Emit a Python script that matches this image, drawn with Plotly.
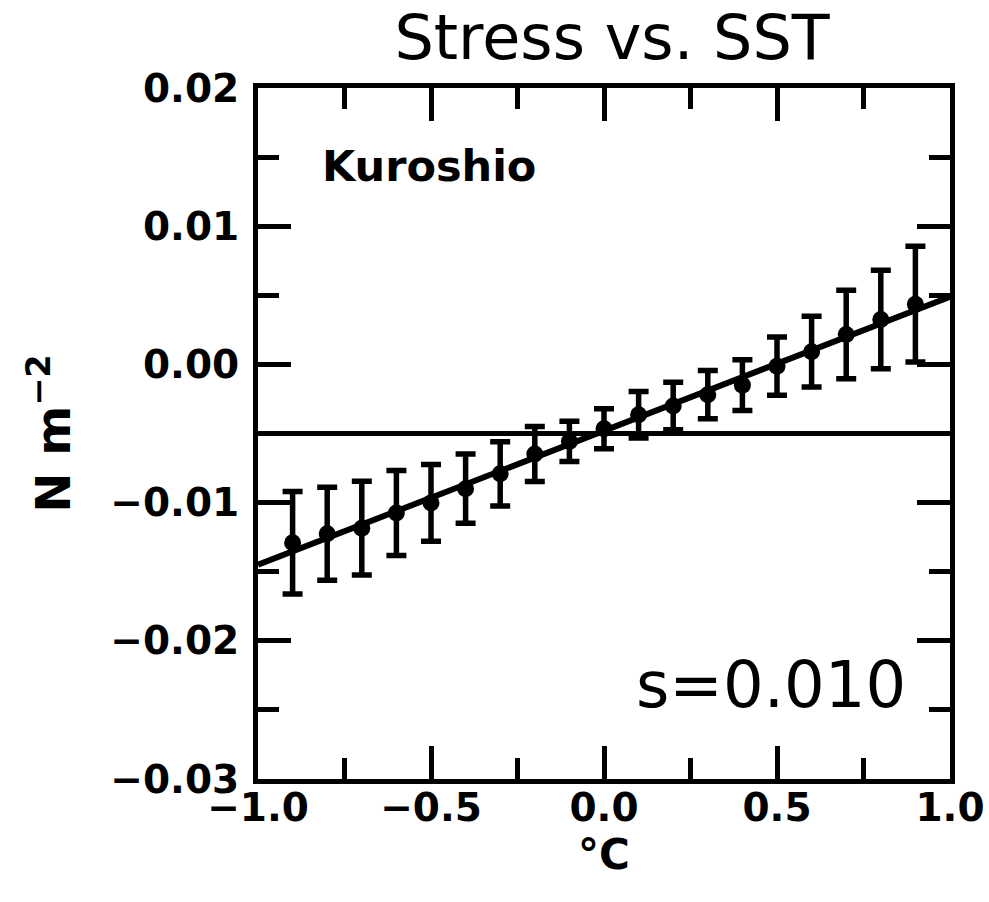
import numpy as np
import plotly.graph_objects as go

# SST anomaly bins (°C)
sst_bins = [-0.9, -0.8, -0.7, -0.6, -0.5, -0.4, -0.3, -0.2, -0.1, 0.0,
            0.1, 0.2, 0.3, 0.4, 0.5, 0.6, 0.7, 0.8, 0.9]

# Bin-mean wind stress (N m^-2)
stress_mean = [-0.01291, -0.01225, -0.01185, -0.01075, -0.01002, -0.00899,
               -0.00792, -0.00649, -0.00557, -0.00466, -0.00364, -0.00301,
               -0.00219, -0.00150, -0.00013, 0.00092, 0.00216, 0.00325, 0.00436]

# Error-bar half-widths (N m^-2)
stress_err = [0.00371, 0.00336, 0.00339, 0.00307, 0.00278, 0.00251,
              0.00232, 0.00199, 0.00146, 0.00145, 0.00168, 0.00172,
              0.00175, 0.00184, 0.00211, 0.00256, 0.00320, 0.00356, 0.00419]

# Linear fit coefficients and reference level
fit_slope = 0.0097
fit_intercept = -0.0048
ref_level = -0.005

x_range = [-1.0, 1.0]
y_range = [-0.03, 0.02]
x_ticks = [-1.0, -0.5, 0.0, 0.5, 1.0]
x_ticktext = ["\u22121.0", "\u22120.5", "0.0", "0.5", "1.0"]
y_ticks = [-0.03, -0.02, -0.01, 0.00, 0.01, 0.02]
y_ticktext = ["\u22120.03", "\u22120.02", "\u22120.01", "0.00", "0.01", "0.02"]

region = "Kuroshio"

fit_x = np.array(x_range)
fit_y = fit_slope * fit_x + fit_intercept

fig = go.Figure()

fig.add_hline(y=ref_level, line=dict(color="black", width=5), layer="below")

fig.add_trace(go.Scatter(
    x=fit_x, y=fit_y, mode="lines",
    line=dict(color="black", width=6),
    showlegend=False, hoverinfo="skip",
))

fig.add_trace(go.Scatter(
    x=sst_bins, y=stress_mean, mode="markers",
    marker=dict(color="black", size=17),
    error_y=dict(type="data", array=stress_err, symmetric=True,
                 color="black", thickness=5.5, width=10),
    showlegend=False,
))

bold = dict(family="DejaVu Sans", color="black", weight="bold")
tick_font = dict(bold, size=39)
axis_common = dict(
    showline=True, linecolor="black", linewidth=5, mirror="ticks",
    ticks="inside", ticklen=33, tickwidth=4.5, tickcolor="black",
    showgrid=False, zeroline=False, tickfont=tick_font, automargin=False,
)

fig.update_xaxes(
    range=x_range, tickvals=x_ticks, ticktext=x_ticktext,
    minor=dict(ticks="inside", ticklen=21, tickwidth=4.5, tickcolor="black",
               dtick=0.25, showgrid=False),
    title=dict(text="°C", font=dict(bold, size=42), standoff=2),
    ticklabelstandoff=-10,
    **axis_common,
)
fig.update_yaxes(
    range=y_range, tickvals=y_ticks, ticktext=y_ticktext,
    minor=dict(ticks="inside", ticklen=21, tickwidth=4.5, tickcolor="black",
               dtick=0.005, showgrid=False),
    title=dict(text="N m<sup>\u22122</sup>", font=dict(bold, size=48),
               standoff=26),
    ticklabelstandoff=6,
    **axis_common,
)

fig.add_annotation(
    text=region, xref="paper", yref="paper", x=0.0896, y=0.887,
    xanchor="left", yanchor="middle", showarrow=False,
    font=dict(bold, size=43),
)
fig.add_annotation(
    text=f"s={fit_slope:.3f}", xref="paper", yref="paper", x=0.94, y=0.136,
    xanchor="right", yanchor="middle", showarrow=False,
    font=dict(family="DejaVu Sans", size=64, color="black"),
)

fig.update_layout(
    width=989, height=902,
    margin=dict(l=258, r=39, t=88, b=123),
    paper_bgcolor="white", plot_bgcolor="white",
    title=dict(text="Stress vs. SST", x=0.5116, xref="paper", xanchor="center",
               y=1 - 37 / 902, yref="container", yanchor="middle",
               font=dict(family="DejaVu Sans", size=62, color="black")),
    font=dict(family="DejaVu Sans", color="black"),
)

fig.write_html("out.html")
